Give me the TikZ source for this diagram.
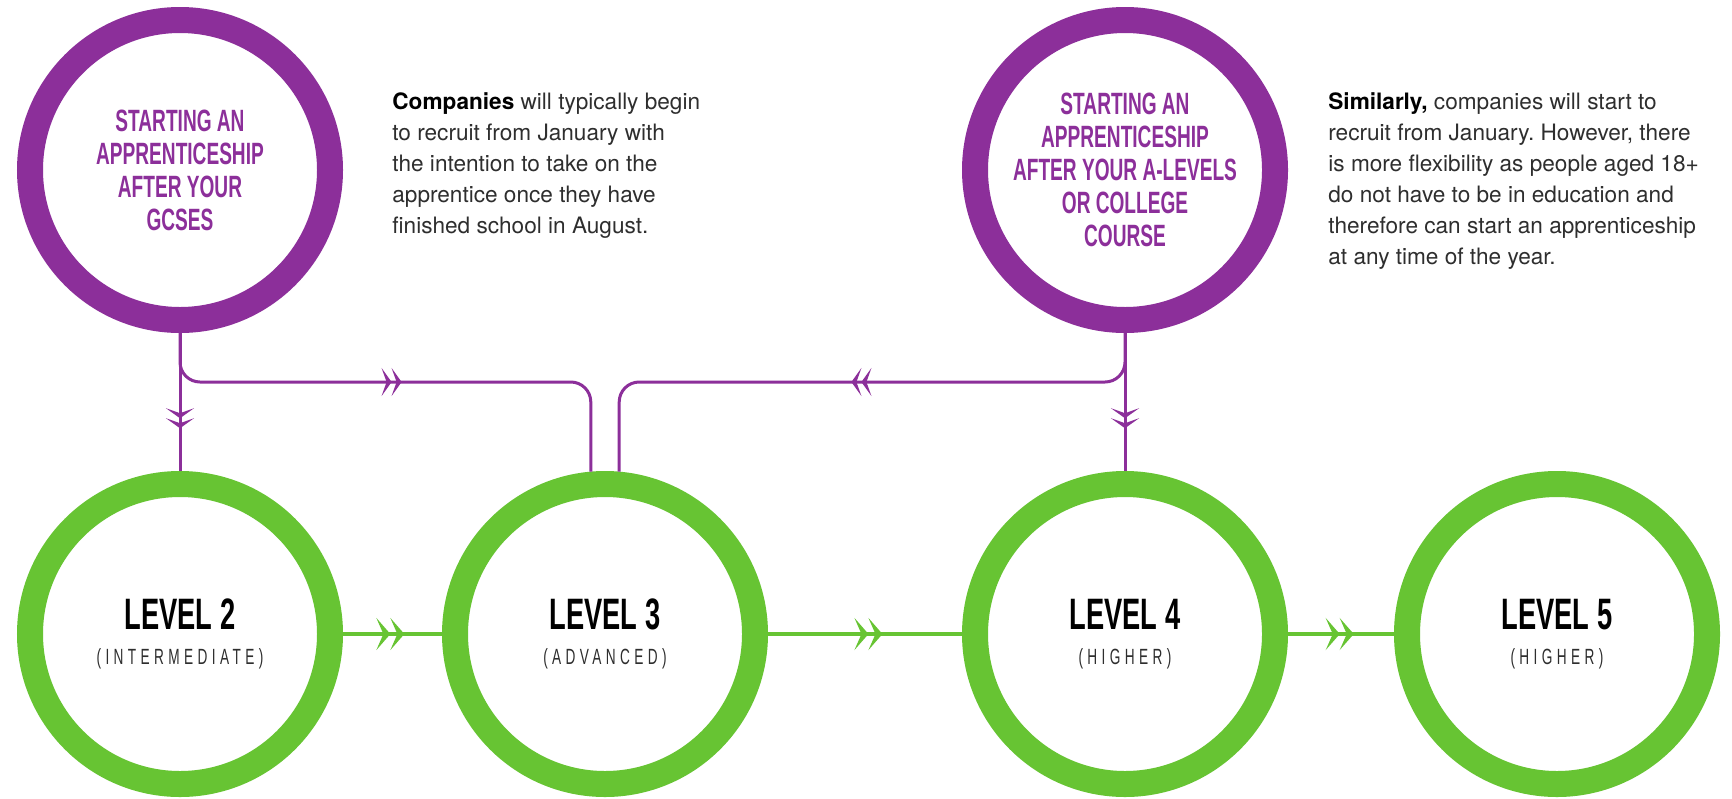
\documentclass[tikz,border=0pt]{standalone}
\usepackage{fontspec}
\setmainfont{TeX Gyre Heros}
\newfontfamily\headfont[FakeStretch=0.62]{Liberation Sans}
\newfontfamily\subfont[FakeStretch=0.62,LetterSpace=20]{Liberation Sans}
\usetikzlibrary{arrows.meta}
\usetikzlibrary{decorations.markings}
\definecolor{startpurple}{HTML}{8C2F9A}
\definecolor{levelgreen}{HTML}{67C433}
\definecolor{bodygray}{HTML}{2E2E2E}
\frenchspacing
\newcommand\levelsub[1]{{\subfont\mdseries\fontsize{11}{12}\selectfont\color{bodygray}#1}}
\tikzset{
        % Starting point circles
        node_start/.style={circle, draw=startpurple, line width=13pt, fill=white, minimum size=150pt, inner sep=0pt, align=center, text=startpurple, font=\headfont\bfseries\fontsize{15.4}{16.5}\selectfont},
        % Level circles
        node_level/.style={circle, draw=levelgreen, line width=13pt, fill=white, minimum size=150pt, inner sep=0pt, align=center, text=black, font=\headfont\bfseries\fontsize{22}{22}\selectfont},
        % Explanation texts
        node_note/.style={anchor=north west, inner sep=0pt, align=left, text=bodygray, font=\fontsize{11.3}{15.5}\selectfont},
        % Purple links with a double arrow
        link_start/.style={draw=startpurple, line width=1.5pt, rounded corners=10pt, postaction={decorate}, decoration={markings, mark=at position #1 with {\arrow{Stealth[length=5pt,width=14pt,inset=2.5pt]Stealth[length=5pt,width=14pt,inset=2.5pt]}}}},
        % Green links with a double arrow
        link_level/.style={draw=levelgreen, line width=2pt, postaction={decorate}, decoration={markings, mark=at position #1 with {\arrow{Stealth[length=7pt,width=16pt,inset=3.5pt]Stealth[length=7pt,width=16pt,inset=3.5pt]}}}}
}
\begin{document}
\begin{tikzpicture}[x=0.5pt, y=-0.5pt]
    \fill[white] (0,0) rectangle (1732,798);
    % Starting points
    \node[node_start] (gcse) at (180,170) {STARTING AN\\APPRENTICESHIP\\AFTER YOUR\\GCSES};
    \node[node_start] (alevel) at (1125,170) {STARTING AN\\APPRENTICESHIP\\AFTER YOUR A-LEVELS\\OR COLLEGE\\COURSE};
    % Levels
    \node[node_level] (level2) at (180,634) {LEVEL 2\\[-4.5pt]\levelsub{(INTERMEDIATE)}};
    \node[node_level] (level3) at (605,634) {LEVEL 3\\[-4.5pt]\levelsub{(ADVANCED)}};
    \node[node_level] (level4) at (1125,634) {LEVEL 4\\[-4.5pt]\levelsub{(HIGHER)}};
    \node[node_level] (level5) at (1557,634) {LEVEL 5\\[-4.5pt]\levelsub{(HIGHER)}};
    % Notes
    \node[node_note] (note_gcse) at (392,92) {\textbf{\color{black}Companies} will typically begin\\to recruit from January with\\the intention to take on the\\apprentice once they have\\finished school in August.};
    \node[node_note] (note_alevel) at (1328,92) {\textbf{\color{black}Similarly,} companies will start to\\recruit from January. However, there\\is more flexibility as people aged 18+\\do not have to be in education and\\therefore can start an apprenticeship\\at any time of the year.};
    % Links
    \coordinate (bus) at (0,382);
    \draw[link_start=0.69] (gcse) -- (level2);
    \draw[link_start=131pt] (gcse.south) |- (bus -| level3.95) -- (level3.95);
    \draw[link_start=0.69] (alevel) -- (level4);
    \draw[link_start=157pt] (alevel.south) |- (bus -| level3.85) -- (level3.85);
    \draw[link_level=0.62] (level2) -- (level3);
    \draw[link_level=0.59] (level3) -- (level4);
    \draw[link_level=0.62] (level4) -- (level5);
\end{tikzpicture}
\end{document}
